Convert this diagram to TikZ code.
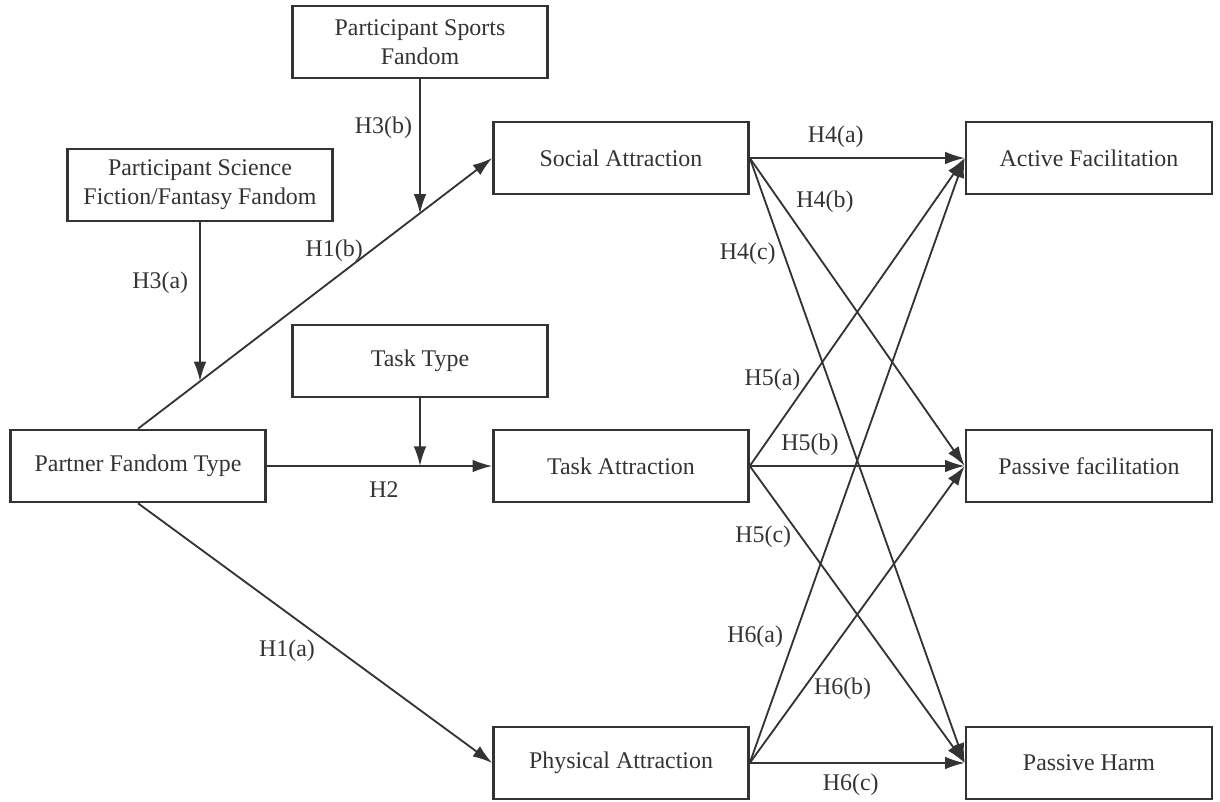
\documentclass[tikz,border=0pt]{standalone}
\usepackage{fontspec}
\setmainfont{Liberation Serif}
\usepackage{tikz}
\usetikzlibrary{arrows.meta}
\usetikzlibrary{positioning}
\usepackage{xcolor}
\definecolor{ink}{HTML}{333333}
\tikzset{>={Latex[length=14pt,width=9pt]}}

\begin{document}
\begin{tikzpicture}
        % boxes sit on grid, centre to centre; mA, mB = where the moderators meet H1(b)
        \tikzstyle{box}=[draw=ink, line width=1.8pt, text=ink, minimum width=6.375cm, minimum height=1.8cm, align=center, font=\fontsize{17}{20.5}\selectfont, on grid]
        \tikzstyle{lbl}=[text=ink, inner sep=2pt, font=\fontsize{17}{20.5}\selectfont]
        \tikzstyle{link}=[->, draw=ink, line width=1.3pt]

        \useasboundingbox (0,0) rectangle (30.5,-20.025);

        \node[box] (PF) at (3.45,-11.65) {Partner Fandom Type};
        \node[box] (TA) [right=12.075cm of PF] {Task Attraction};
        \node[box] (SA) [above=7.7cm of TA] {Social Attraction};
        \node[box] (PA) [below=7.425cm of TA] {Physical Attraction};
        \node[box, minimum width=6.15cm] (PFac) [right=11.7cm of TA] {Passive facilitation};
        \node[box, minimum width=6.15cm] (AF) [above=7.7cm of PFac] {Active Facilitation};
        \node[box, minimum width=6.15cm] (PH) [below=7.425cm of PFac] {Passive Harm};
        \node[box] (TT) [above left=2.625cm and 5.025cm of TA] {Task Type};
        \node[box] (SP) [above=7.975cm of TT] {Participant Sports\\Fandom};
        \node[box, minimum width=6.625cm] (SF) [above right=7.025cm and 1.55cm of PF] {Participant Science\\Fiction/Fantasy Fandom};

        \draw[link] (PF.north) -- node[lbl, pos=0.657, left=3pt] {H1(b)}
                coordinate[pos=0.175] (mA) coordinate[pos=0.794] (mB) (SA.west);
        \draw[link] (SP.south) -- node[lbl, pos=0.36, left=3pt] {H3(b)} (SP.south |- mB);
        \draw[link] (SF.south) -- node[lbl, pos=0.38, left=5.8pt] {H3(a)} (SF.south |- mA);
        \draw[link] (PF.east) -- node[lbl, pos=0.52, below=8.5pt] {H2} (TA.west);
        \draw[link] (TT.south) -- (TT.south |- PF.east);
        \draw[link] (PF.south) -- node[lbl, pos=0.51, below left] {H1(a)} (PA.west);

        \draw[link] (SA.east) -- node[lbl, pos=0.4, above=4.5pt] {H4(a)} (AF.west);
        \draw[link] (SA.east) -- node[lbl, pos=0.143, right=8.7pt] {H4(b)} (PFac.west);
        \draw[link] (SA.east) -- node[lbl, pos=0.159, left=3.3pt] {H4(c)} (PH.west);

        \draw[link] (TA.east) -- node[lbl, pos=0.279, left=4pt] {H5(a)} (AF.west);
        \draw[link] (TA.east) -- node[lbl, pos=0.28, above=5pt] {H5(b)} (PFac.west);
        \draw[link] (TA.east) -- node[lbl, pos=0.239, left=4.5pt] {H5(c)} (PH.west);

        \draw[link] (PA.east) -- node[lbl, pos=0.208, left=5.5pt] {H6(a)} (AF.west);
        \draw[link] (PA.east) -- node[lbl, pos=0.249, right=5pt] {H6(b)} (PFac.west);
        \draw[link] (PA.east) -- node[lbl, pos=0.47, below=5pt] {H6(c)} (PH.west);
\end{tikzpicture}
\end{document}
